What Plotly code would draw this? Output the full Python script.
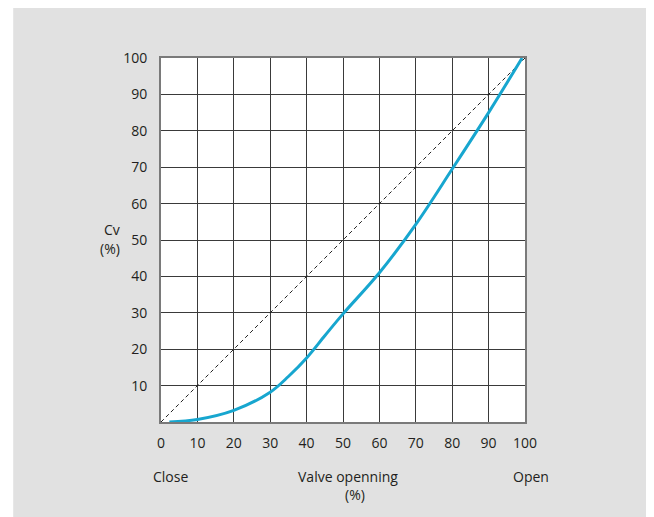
import plotly.graph_objects as go

# Data
opening = [2.3, 10, 20, 30, 35, 40, 45, 50, 60, 70, 80, 90, 99.2]
cv =      [0.0, 0.7, 3.2, 8.2, 12.5, 17.6, 23.7, 29.7, 41.0, 54.3, 69.5, 85.0, 100.0]
diag_x = [0, 100]
diag_y = [0, 100]
x_ticks = [0, 10, 20, 30, 40, 50, 60, 70, 80, 90, 100]
y_ticks = [10, 20, 30, 40, 50, 60, 70, 80, 90, 100]

# The page body has an 8px margin, so the figure sits at (8, 8) in the window.
OFF = 8
W, H = 654 - OFF, 517 - OFF
L, R, T, B = 161 - OFF, 525.5 - OFF, 58 - OFF, 422.5 - OFF
pw, ph = R - L, B - T

def px(x):
    return (x - OFF - L) / pw

def py(y):
    return (B - (y - OFF)) / ph

fig = go.Figure()
fig.add_trace(go.Scatter(x=diag_x, y=diag_y, mode="lines",
                         line=dict(color="#222222", width=1, dash="4px,3px"),
                         hoverinfo="skip", showlegend=False))
fig.add_trace(go.Scatter(x=opening, y=cv, mode="lines",
                         line=dict(color="#17a6cf", width=3, shape="spline", smoothing=1.0),
                         showlegend=False))

font = dict(family="Open Sans, Noto Sans, sans-serif", size=14, color="#231f20")

fig.update_xaxes(range=[0, 100], tickvals=x_ticks, showgrid=True, gridcolor="#3a3a3a",
                 gridwidth=1, zeroline=False, showline=True, linecolor="#7a7a7a",
                 linewidth=2, mirror=True, ticks="outside", ticklen=7,
                 tickcolor="rgba(0,0,0,0)", tickfont=font)
fig.update_yaxes(range=[0, 100], tickvals=y_ticks, showgrid=True, gridcolor="#3a3a3a",
                 gridwidth=1, zeroline=False, showline=True, linecolor="#7a7a7a",
                 linewidth=2, mirror=True, ticks="outside", ticklen=9,
                 tickcolor="rgba(0,0,0,0)", tickfont=font)

# white strip on the left of the image (window x 8..13)
fig.add_shape(type="rect", xref="paper", yref="paper", x0=px(0), x1=px(13),
              y0=py(600), y1=py(0), fillcolor="white", line=dict(width=0), layer="below")

def ann(text, x, y):
    fig.add_annotation(text=text, xref="paper", yref="paper", x=px(x), y=py(y),
                       xanchor="center", yanchor="middle", showarrow=False, font=font)

ann("Cv", 112, 230)
ann("(%)", 110, 249)
ann("Close", 171, 477)
ann("Valve openning", 348, 477)
ann("(%)", 355, 495)
ann("Open", 532, 477)

fig.update_layout(width=W, height=H, margin=dict(l=L, r=W - R, t=T, b=H - B),
                  paper_bgcolor="#e1e1e1", plot_bgcolor="white", showlegend=False)

fig.write_html("out.html")
